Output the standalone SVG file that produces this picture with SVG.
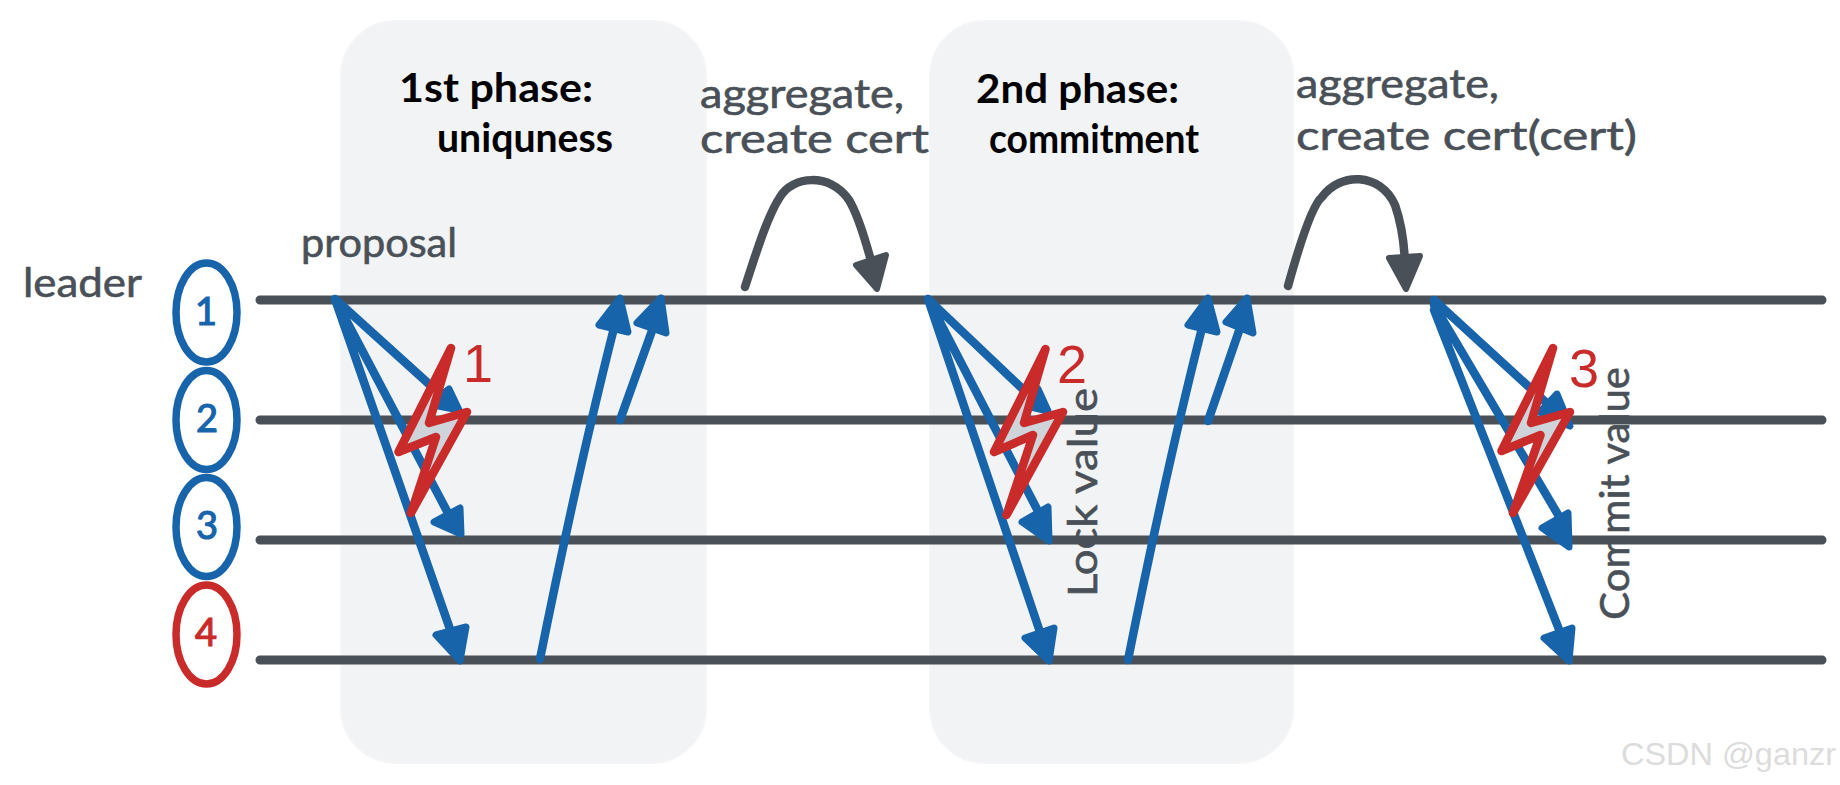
<svg xmlns="http://www.w3.org/2000/svg" width="1840" height="785" viewBox="0 0 1840 785">
<style>
.panel{fill:#f1f3f5;stroke:#f4f5f7;stroke-width:2}
.track{stroke:#495057;stroke-width:9;stroke-linecap:round;fill:none}
.blue{stroke:#1864ab;stroke-width:8.500;stroke-linecap:round;stroke-linejoin:round;fill:none}
.bluehead{fill:#1864ab;stroke:#1864ab;stroke-width:7;stroke-linejoin:round}
.gray{stroke:#495057;stroke-width:8.500;stroke-linecap:round;fill:none}
.grayhead{fill:#495057;stroke:#495057;stroke-width:6;stroke-linejoin:round}
.bolt{fill:#ced4da;stroke:#c92a2a;stroke-width:8.500;stroke-linejoin:round}
.node{stroke-width:7.500;fill:none}
.hand{font-family:"Lato","Noto Sans",sans-serif;font-size:40px;fill:#495057;stroke:#495057;stroke-width:.6}
.title{font-family:"Lato","Noto Sans",sans-serif;font-size:40px;font-weight:700;fill:#000}
.num{font-family:"Lato","Noto Sans",sans-serif;font-size:38px;text-anchor:middle;stroke-width:1.200}
.red{font-family:"Liberation Sans",Arial,sans-serif;font-size:54px;fill:#c92a2a;text-anchor:middle}
.mark{font-family:"Liberation Sans",Arial,sans-serif;font-size:32px;fill:#dcdcdc}
</style>
<g id="panels">
<rect class="panel" x="341" y="21" width="365" height="742" rx="55" ry="55"/>
<rect class="panel" x="930" y="21" width="363" height="742" rx="55" ry="55"/>
</g>
<g id="connectors">
<path class="track" d="M260 300H1822M260 420H1822M260 540H1822M260 660H1822"/>
<path class="blue" d="M335 299L440 394M335 299L449 515M335 299L451 632"/>
<polygon class="bluehead" points="459,410 449,389 428,404"/>
<polygon class="bluehead" points="461,534 434,522 460,508"/>
<polygon class="bluehead" points="460,661 436,635 466,627"/>
<path class="blue" d="M540 659Q578 470 614 328"/>
<polygon class="bluehead" points="620,298 599,325 628,332"/>
<path class="blue" d="M620 420L653 328"/>
<polygon class="bluehead" points="661,298 637,323 666,333"/>
<path class="blue" d="M928 299L1030 396M928 299L1040 515M928 299L1040 632"/>
<polygon class="bluehead" points="1048,411 1038,389 1018,404"/>
<polygon class="bluehead" points="1049,541 1022,522 1048,507"/>
<polygon class="bluehead" points="1049,661 1025,638 1054,628"/>
<path class="blue" d="M1128 660Q1166 470 1202 328"/>
<polygon class="bluehead" points="1208,298 1188,325 1217,332"/>
<path class="blue" d="M1208 421L1240 328"/>
<polygon class="bluehead" points="1247,298 1226,322 1253,333"/>
<path class="blue" d="M1434 300L1552 408M1434 305L1560 518M1434 310L1560 632"/>
<polygon class="bluehead" points="1570,426 1557,394 1540,412"/>
<polygon class="bluehead" points="1569,547 1542,528 1568,513"/>
<polygon class="bluehead" points="1569,661 1544,638 1572,628"/>
<path class="gray" d="M745 287C757 250 768 215 780 197C792 176 830 172 849 200C860 218 868 250 873 268"/>
<polygon class="grayhead" points="877,289 856,265 886,255"/>
<path class="gray" d="M1288 286C1298 250 1312 205 1322 197C1340 172 1380 172 1395 205C1401 222 1404 242 1405 262"/>
<polygon class="grayhead" points="1406,289 1389,258 1420,256"/>
</g>
<g id="node-1"><ellipse class="node" cx="206.500" cy="312.500" rx="30.500" ry="49.500" stroke="#1864ab"/><text class="num" x="206" y="325" fill="#1864ab" stroke="#1864ab">1</text></g>
<g id="node-2"><ellipse class="node" cx="206.500" cy="420" rx="30.500" ry="49.500" stroke="#1864ab"/><text class="num" x="207" y="432" fill="#1864ab" stroke="#1864ab">2</text></g>
<g id="node-3"><ellipse class="node" cx="206.500" cy="527" rx="30.500" ry="49.500" stroke="#1864ab"/><text class="num" x="207" y="539" fill="#1864ab" stroke="#1864ab">3</text></g>
<g id="node-4"><ellipse class="node" cx="206.500" cy="634.500" rx="30.500" ry="49.500" stroke="#c92a2a"/><text class="num" x="206" y="646" fill="#c92a2a" stroke="#c92a2a">4</text></g>
<g id="fault-1"><polygon class="bolt" points="451,348 429,423 467,412 411,513 436,437 398.500,452"/><text class="red" x="478" y="382">1</text></g>
<g id="fault-2"><polygon class="bolt" points="1045.500,349 1024,423 1063,412 1006.500,515 1033,435 994,452"/><text class="red" x="1072" y="383">2</text></g>
<g id="fault-3"><polygon class="bolt" points="1553,348 1531,423 1570,412 1513,513 1540.500,435 1501.500,451"/><text class="red" x="1584" y="387">3</text></g>
<g id="labels">
<text class="hand" x="23" y="297" textLength="119" lengthAdjust="spacingAndGlyphs">leader</text>
<text class="hand" x="301" y="257" textLength="156" lengthAdjust="spacingAndGlyphs">proposal</text>
<text class="title" x="399" y="102" textLength="194" lengthAdjust="spacingAndGlyphs">1st phase:</text>
<text class="title" x="437" y="152" textLength="176" lengthAdjust="spacingAndGlyphs">uniquness</text>
<text class="hand" x="700" y="108" textLength="204" lengthAdjust="spacingAndGlyphs">aggregate,</text>
<text class="hand" x="700" y="153" textLength="229" lengthAdjust="spacingAndGlyphs">create cert</text>
<text class="title" x="976" y="103" textLength="203" lengthAdjust="spacingAndGlyphs">2nd phase:</text>
<text class="title" x="989" y="153" textLength="210" lengthAdjust="spacingAndGlyphs">commitment</text>
<text class="hand" x="1296" y="98" textLength="203" lengthAdjust="spacingAndGlyphs">aggregate,</text>
<text class="hand" x="1296" y="150" textLength="341" lengthAdjust="spacingAndGlyphs">create cert(cert)</text>
<text class="hand" transform="translate(1097 597) rotate(-90)" textLength="209" lengthAdjust="spacingAndGlyphs">Lock value</text>
<text class="hand" transform="translate(1629 620) rotate(-90)" textLength="253" lengthAdjust="spacingAndGlyphs">Commit value</text>
<text class="mark" x="1621" y="765" textLength="215" lengthAdjust="spacingAndGlyphs">CSDN @ganzr</text>
</g>
</svg>
